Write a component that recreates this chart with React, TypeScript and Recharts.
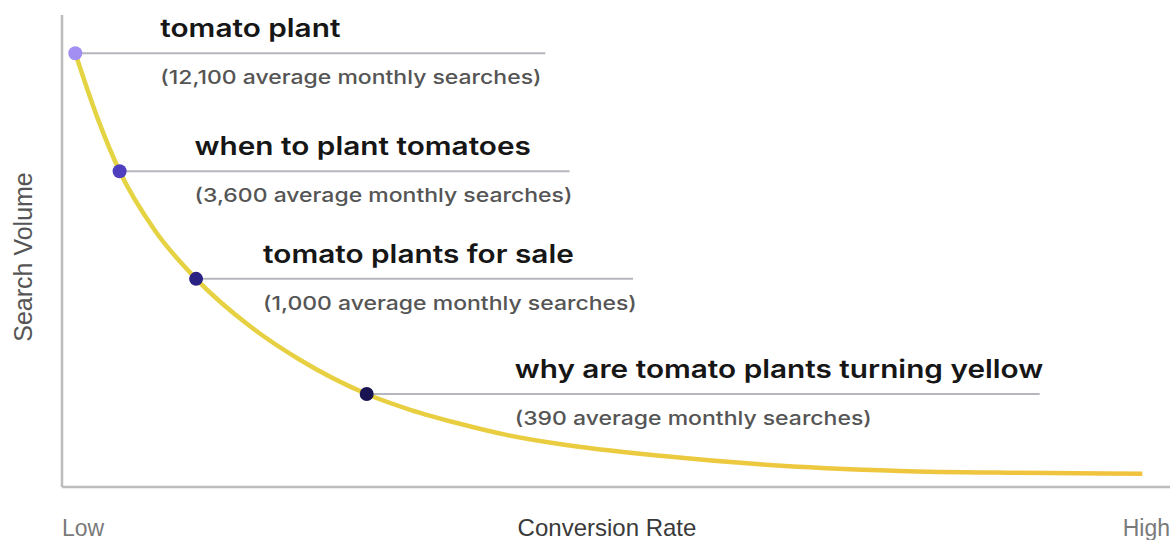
import React from 'react';
import { ComposedChart, Line, Scatter, XAxis, YAxis, Label } from 'recharts';

// curve (conversion rate 0-100 vs relative search volume 0-100)
const curveRate = [1.2, 3.2, 5.2, 8.4, 12.1, 17.0, 21.5, 27.5, 31.5, 35.9, 40.0, 44.9, 54.0, 63.0, 75.6, 86.5, 97.5];
const curveVolume = [91.9, 78.2, 66.9, 54.3, 44.1, 34.0, 26.9, 19.7, 16.3, 13.4, 11.1, 9.1, 6.6, 4.8, 3.4, 3.0, 2.8];

const keywords = [
  'tomato plant',
  'when to plant tomatoes',
  'tomato plants for sale',
  'why are tomato plants turning yellow',
];
const monthlySearches = ['12,100', '3,600', '1,000', '390'];
const keywordRate = [1.2, 5.2, 12.1, 27.5];
const keywordVolume = [91.9, 66.9, 44.1, 19.7];

const rateTicks = [0, 100];
const rateTickLabels = ['Low', 'High'];

// layout only
const dotColors = ['#a38ef2', '#4f3fbf', '#2a2184', '#1a1352'];
const textOffset = [85, 75, 67, 148];
const leaderLength = [470, 450, 437, 673];

const curveData = curveRate.map((x, i) => ({ x, volume: curveVolume[i] }));
const keywordData = keywords.map((k, i) => ({
  x: keywordRate[i],
  volume: keywordVolume[i],
  keyword: k,
  searches: monthlySearches[i],
  idx: i,
}));

const TITLE_FONT = 'Inter, "Noto Sans", sans-serif';
const AXIS_FONT = '"Liberation Sans", Arial, sans-serif';

const KeywordMark = (props: any) => {
  const { cx, cy, payload } = props;
  const i = payload.idx;
  const tx = cx + textOffset[i];
  return (
    <g>
      <line x1={cx} y1={cy} x2={cx + leaderLength[i]} y2={cy} stroke="#b6b6bf" strokeWidth={2} />
      <circle cx={cx} cy={cy} r={7} fill={dotColors[i]} />
      {/* the source type is wide, so stretch horizontally */}
      <text
        transform={`translate(${tx},${cy - 16}) scale(1.19,1)`}
        fontFamily={TITLE_FONT}
        fontSize={25}
        fontWeight={600}
        fill="#161616"
      >
        {payload.keyword}
      </text>
      <text
        transform={`translate(${tx},${cy + 31}) scale(1.21,1)`}
        fontFamily={TITLE_FONT}
        fontSize={19}
        fontWeight={500}
        fill="#555"
      >
        ({payload.searches} average monthly searches)
      </text>
    </g>
  );
};

const RateTick = (props: any) => {
  const { x, y, payload, index } = props;
  const first = index === 0;
  return (
    <text
      x={x}
      y={y}
      dy={41}
      textAnchor={first ? 'start' : 'end'}
      fontFamily={AXIS_FONT}
      fontSize={23}
      fill="#7a7a7a"
    >
      {rateTickLabels[rateTicks.indexOf(payload.value)]}
    </text>
  );
};

export default function App() {
  return (
    <div style={{ position: 'absolute', left: 0, top: 0, background: '#fff' }}>
      <ComposedChart width={1173} height={540} margin={{ top: 15, right: 3, bottom: 3, left: 32 }}>
        <defs>
          <linearGradient id="curveGrad" x1="0" y1="0" x2="1" y2="0">
            <stop offset="0%" stopColor="#e4d443" />
            <stop offset="100%" stopColor="#f1c23d" />
          </linearGradient>
        </defs>
        <XAxis
          type="number"
          dataKey="x"
          domain={[0, 100]}
          ticks={rateTicks}
          height={50}
          tickLine={false}
          axisLine={{ stroke: '#bcbcbc', strokeWidth: 2.5 }}
          tick={<RateTick />}
          interval={0}
        >
          <Label
            value="Conversion Rate"
            position="insideBottom"
            offset={1}
            dx={-9}
            fontFamily={AXIS_FONT}
            fontSize={24}
            fill="#3a3a3a"
          />
        </XAxis>
        <YAxis
          type="number"
          domain={[0, 100]}
          width={30}
          tick={false}
          tickLine={false}
          axisLine={{ stroke: '#bcbcbc', strokeWidth: 2.5 }}
        />
        <Line
          data={curveData}
          dataKey="volume"
          type="monotone"
          stroke="url(#curveGrad)"
          strokeWidth={4.5}
          dot={false}
          isAnimationActive={false}
        />
        <Scatter data={keywordData} dataKey="volume" shape={<KeywordMark />} isAnimationActive={false} />
      </ComposedChart>
      <div
        style={{
          position: 'absolute',
          left: 23,
          top: 257,
          transform: 'translate(-50%, -50%) rotate(-90deg)',
          whiteSpace: 'nowrap',
          fontFamily: AXIS_FONT,
          fontSize: 25,
          color: '#555',
        }}
      >
        Search Volume
      </div>
    </div>
  );
}
